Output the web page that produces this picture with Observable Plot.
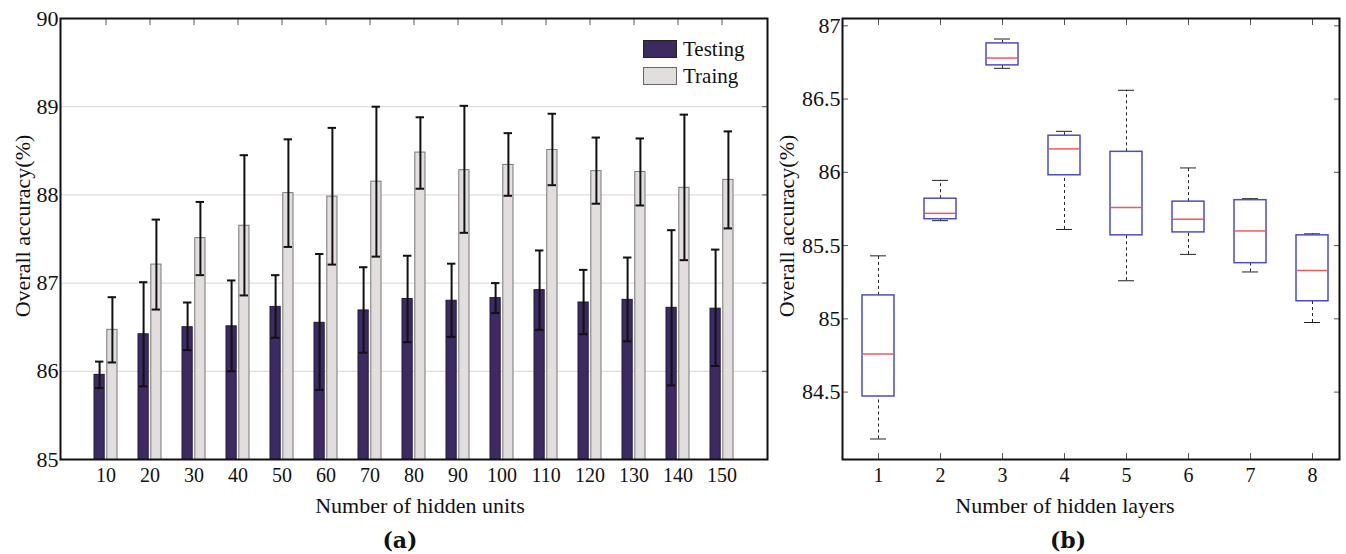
<!DOCTYPE html>
<html><head><meta charset="utf-8">
<script src="https://cdn.jsdelivr.net/npm/d3@7"></script>
<script src="https://cdn.jsdelivr.net/npm/@observablehq/plot@0.6"></script>
<style>
body{margin:0;background:#fff;font-family:"Liberation Serif","Times New Roman",serif;color:#111;}
#wrap{position:relative;width:1346px;height:554px;overflow:hidden;}
.panel{position:absolute;top:0;}
.panel svg, .panel svg text{font-family:"Liberation Serif","Times New Roman",serif !important;}
.cap{position:absolute;top:527px;width:60px;text-align:center;font-weight:bold;font-size:22px;font-family:"DejaVu Serif","Liberation Serif",serif;}
.sw{position:absolute;width:34px;height:18px;box-sizing:border-box;}
.lt{position:absolute;font-size:21px;line-height:21px;}
</style></head>
<body>
<div id="wrap">
  <div id="a" class="panel" style="left:0px"></div>
  <div id="b" class="panel" style="left:770px"></div>
  <div class="sw" style="left:643px;top:40px;background:#3d2a63;border:1px solid #222;"></div>
  <div class="sw" style="left:643px;top:67px;background:#e3dede;border:1px solid #666;"></div>
  <div class="lt" style="left:683px;top:39px;">Testing</div>
  <div class="lt" style="left:683px;top:66px;">Traing</div>
  <div class="cap" style="left:370px;">(a)</div>
  <div class="cap" style="left:1038px;">(b)</div>
</div>
<script>
// ---- Panel (a): bars with error bars ----
const units = [10,20,30,40,50,60,70,80,90,100,110,120,130,140,150];
const testMean = [85.96,86.42,86.50,86.51,86.73,86.55,86.69,86.82,86.80,86.83,86.92,86.78,86.81,86.72,86.71];
const testLo   = [85.81,85.83,86.24,86.00,86.38,85.79,86.21,86.33,86.39,86.66,86.47,86.42,86.34,85.84,86.06];
const testHi   = [86.11,87.01,86.78,87.03,87.09,87.33,87.18,87.31,87.22,87.00,87.37,87.15,87.29,87.60,87.38];
const trainMean = [86.47,87.21,87.51,87.65,88.02,87.98,88.15,88.48,88.28,88.34,88.51,88.27,88.26,88.08,88.17];
const trainLo   = [86.10,86.70,87.09,86.86,87.41,87.21,87.30,88.07,87.57,87.99,88.11,87.90,87.88,87.26,87.62];
const trainHi   = [86.84,87.72,87.92,88.45,88.63,88.76,89.00,88.88,89.01,88.70,88.92,88.65,88.64,88.91,88.72];
const yTicksA = [85,86,87,88,89,90];
const gridA = [86,87,88,89];

// ---- Panel (b): box plots ----
const layers = [1,2,3,4,5,6,7,8];
const whiskLow  = [84.18,85.67,86.71,85.61,85.26,85.44,85.32,84.975];
const q1        = [84.47,85.68,86.73,85.98,85.57,85.59,85.38,85.12];
const medians   = [84.76,85.72,86.78,86.16,85.76,85.68,85.60,85.33];
const q3        = [85.16,85.82,86.88,86.25,86.14,85.80,85.81,85.57];
const whiskHigh = [85.43,85.945,86.91,86.28,86.56,86.03,85.82,85.58];
const yTicksB = [84.5,85,85.5,86,86.5,87];

const testRows = units.map((u,i)=>({units:u, mean:testMean[i], lo:testLo[i], hi:testHi[i]}));
const trainRows = units.map((u,i)=>({units:u, mean:trainMean[i], lo:trainLo[i], hi:trainHi[i]}));
const boxRows = layers.map((l,i)=>({layer:l, lo:whiskLow[i], q1:q1[i], med:medians[i], q3:q3[i], hi:whiskHigh[i]}));

const font = {fontFamily:"Liberation Serif, serif", background:"transparent", color:"#111", overflow:"visible"};
const fmt = d => String(d);

const plotA = Plot.plot({
  width: 790, height: 520,
  marginLeft: 60, marginRight: 23, marginTop: 18, marginBottom: 61,
  style: font,
  x: {type:"band", domain: units, paddingInner: 0.4727, paddingOuter: 0.7364, align: 0.5},
  y: {domain: [85, 90]},
  marks: [
    Plot.gridY(gridA, {stroke:"#e3dcdc", strokeOpacity:1, strokeWidth:1.2}),
    Plot.barY(testRows, {x:"units", y:"mean", clip:true, insetRight:12.8, fill:"#3d2a63", stroke:"#241840", strokeWidth:1}),
    Plot.barY(trainRows, {x:"units", y:"mean", clip:true, insetLeft:12.8, fill:"#e3dede", stroke:"#777", strokeWidth:1}),
    Plot.ruleX(testRows, {x:"units", y1:"lo", y2:"hi", dx:-6.4, stroke:"#111", strokeWidth:2}),
    Plot.tickY(testRows, {x:"units", y:"hi", insetLeft:1, insetRight:13.6, stroke:"#111", strokeWidth:2}),
    Plot.tickY(testRows, {x:"units", y:"lo", insetLeft:1, insetRight:13.6, stroke:"#111", strokeWidth:2}),
    Plot.ruleX(trainRows, {x:"units", y1:"lo", y2:"hi", dx:6.4, stroke:"#111", strokeWidth:2}),
    Plot.tickY(trainRows, {x:"units", y:"hi", insetLeft:13.6, insetRight:1, stroke:"#111", strokeWidth:2}),
    Plot.tickY(trainRows, {x:"units", y:"lo", insetLeft:13.6, insetRight:1, stroke:"#111", strokeWidth:2}),
    Plot.axisY(yTicksA, {anchor:"left", tickSize:0, tickPadding:2, fontSize:22, tickFormat:fmt, label:null}),
    Plot.axisY(gridA, {anchor:"right", tickSize:6, dx:-6, stroke:"#555", tickFormat:()=>"", label:null}),
    Plot.axisX(units, {anchor:"top", tickSize:6, dy:6, stroke:"#555", tickFormat:()=>"", label:null}),
    Plot.axisX(units, {anchor:"bottom", tickSize:0, tickPadding:8, fontSize:20, tickFormat:fmt, label:null}),
    Plot.frame({stroke:"#111", strokeWidth:2}),
    Plot.text(["Number of hidden units"], {text:d=>d, frameAnchor:"bottom", dy:46, dx:6, lineAnchor:"middle", fontSize:22}),
    Plot.text(["Overall accuracy(%)"], {text:d=>d, frameAnchor:"left", dx:-38, dy:-13, rotate:-90, textAnchor:"middle", lineAnchor:"middle", fontSize:22})
  ]
});
document.getElementById("a").append(plotA);

const plotB = Plot.plot({
  width: 576, height: 520,
  marginLeft: 72, marginRight: 7, marginTop: 18, marginBottom: 61,
  style: font,
  x: {type:"band", domain: layers, paddingInner: 0.49, paddingOuter: 0.212, align: 0.63},
  y: {domain: [84.04, 87.05]},
  marks: [
    Plot.ruleX(boxRows, {x:"layer", y1:"q3", y2:"hi", stroke:"#222", strokeDasharray:"3,3"}),
    Plot.ruleX(boxRows, {x:"layer", y1:"lo", y2:"q1", stroke:"#222", strokeDasharray:"3,3"}),
    Plot.tickY(boxRows, {x:"layer", y:"hi", insetLeft:8, insetRight:8, stroke:"#222"}),
    Plot.tickY(boxRows, {x:"layer", y:"lo", insetLeft:8, insetRight:8, stroke:"#222"}),
    Plot.barY(boxRows, {x:"layer", y1:"q1", y2:"q3", fill:"white", stroke:"#4c4cc4", strokeWidth:1.5}),
    Plot.tickY(boxRows, {x:"layer", y:"med", insetLeft:1, insetRight:1, stroke:"#f25858", strokeWidth:1.5}),
    Plot.axisY(yTicksB, {anchor:"left", tickSize:0, tickPadding:2, fontSize:22, tickFormat:fmt, label:null}),
    Plot.axisY(yTicksB, {anchor:"left", tickSize:6, dx:6, stroke:"#555", tickFormat:()=>"", label:null}),
    Plot.axisY(yTicksB, {anchor:"right", tickSize:6, dx:-6, stroke:"#555", tickFormat:()=>"", label:null}),
    Plot.axisX(layers, {anchor:"top", tickSize:6, dy:6, stroke:"#555", tickFormat:()=>"", label:null}),
    Plot.axisX(layers, {anchor:"bottom", tickSize:6, dy:-6, stroke:"#555", tickFormat:()=>"", label:null}),
    Plot.axisX(layers, {anchor:"bottom", tickSize:0, tickPadding:8, fontSize:20, tickFormat:fmt, label:null}),
    Plot.frame({stroke:"#111", strokeWidth:2}),
    Plot.text(["Number of hidden layers"], {text:d=>d, frameAnchor:"bottom", dy:46, dx:-26, lineAnchor:"middle", fontSize:22}),
    Plot.text(["Overall accuracy(%)"], {text:d=>d, frameAnchor:"left", dx:-56, dy:-13, rotate:-90, textAnchor:"middle", lineAnchor:"middle", fontSize:22})
  ]
});
document.getElementById("b").append(plotB);
</script>
</body></html>
